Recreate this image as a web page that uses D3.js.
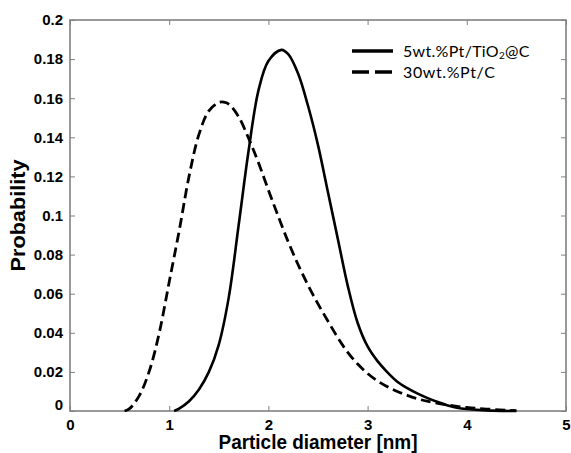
<!DOCTYPE html>
<html><head><meta charset="utf-8">
<script src="https://cdn.jsdelivr.net/npm/d3@7"></script>
<style>body{margin:0;background:#fff}</style>
</head><body>
<script>
// Data
const solidX = [1.05,1.1,1.2,1.3,1.4,1.5,1.6,1.7,1.8,1.9,2.0,2.13,2.2,2.3,2.4,2.5,2.6,2.7,2.8,2.9,3.0,3.1,3.2,3.3,3.4,3.5,3.6,3.7,3.8,3.9,4.0,4.2,4.5];
const solidY = [0,0.0012,0.005,0.011,0.020,0.034,0.058,0.095,0.133,0.164,0.179,0.1847,0.1825,0.1725,0.156,0.136,0.112,0.088,0.064,0.045,0.033,0.0255,0.0198,0.015,0.0117,0.009,0.0067,0.0047,0.003,0.0017,0.001,0.0003,0];
const dashX = [0.55,0.6,0.7,0.8,0.9,1.0,1.1,1.2,1.3,1.4,1.5,1.55,1.6,1.7,1.8,1.9,2.0,2.1,2.2,2.3,2.4,2.5,2.6,2.7,2.8,2.9,3.0,3.1,3.2,3.3,3.4,3.5,3.6,3.8,4.0,4.2,4.5];
const dashY = [0,0.0012,0.008,0.0205,0.040,0.066,0.092,0.120,0.1415,0.1535,0.1578,0.158,0.157,0.1505,0.1395,0.127,0.113,0.0995,0.0865,0.0748,0.0643,0.0548,0.046,0.0375,0.030,0.024,0.0192,0.0154,0.0124,0.010,0.008,0.0063,0.005,0.0031,0.0018,0.001,0.0002];
const xTicks = [0,1,2,3,4,5];
const yTicks = [0,0.02,0.04,0.06,0.08,0.1,0.12,0.14,0.16,0.18,0.2];
const yTickLabels = ["0","0.02","0.04","0.06","0.08","0.1","0.12","0.14","0.16","0.18","0.2"];
const seriesNames = ["5wt.%Pt/TiO","30wt.%Pt/C"];

const W = 571, H = 453;
const m = {l:70, r:5, t:20, b:42};
const svg = d3.select("body").append("svg").attr("width",W).attr("height",H);
const x = d3.scaleLinear().domain([0,5]).range([m.l, W-m.r]);
const y = d3.scaleLinear().domain([0,0.2]).range([H-m.b, m.t]);
const axisColor = "#808080";
const tickFont = "'Liberation Sans', Arial, sans-serif";

// frame
svg.append("rect").attr("x",x(0)).attr("y",y(0.2)).attr("width",x(5)-x(0)).attr("height",y(0)-y(0.2))
  .attr("fill","none").attr("stroke",axisColor).attr("stroke-width",1.6);

// axes (ticks inward)
const xb = svg.append("g").attr("transform",`translate(0,${y(0)})`)
  .call(d3.axisBottom(x).tickValues(xTicks).tickSizeInner(-5).tickSizeOuter(0).tickPadding(8).tickFormat(d3.format("d")));
const xt = svg.append("g").attr("transform",`translate(0,${y(0.2)})`)
  .call(d3.axisTop(x).tickValues(xTicks).tickSizeInner(-5).tickSizeOuter(0).tickFormat(""));
const yl = svg.append("g").attr("transform",`translate(${x(0)},0)`)
  .call(d3.axisLeft(y).tickValues(yTicks).tickSizeInner(-5).tickSizeOuter(0).tickPadding(7).tickFormat((d,i)=>yTickLabels[i]));
const yr = svg.append("g").attr("transform",`translate(${x(5)},0)`)
  .call(d3.axisRight(y).tickValues(yTicks).tickSizeInner(-5).tickSizeOuter(0).tickFormat(""));
[xb,xt,yl,yr].forEach(g=>{
  g.select(".domain").remove();
  g.selectAll(".tick line").attr("stroke",axisColor).attr("stroke-width",1);
  g.selectAll(".tick text").attr("font-family",tickFont).attr("font-weight","bold").attr("font-size",15).attr("fill","#000");
});
yl.selectAll(".tick text").filter(d=>d===0).attr("dy","-0.1em");

// curves
const line = d3.line().x(d=>x(d[0])).y(d=>y(d[1])).curve(d3.curveCatmullRom.alpha(0.5));
svg.append("path").datum(solidX.map((v,i)=>[v,solidY[i]]))
  .attr("d",line).attr("fill","none").attr("stroke","#000").attr("stroke-width",2.6);
svg.append("path").datum(dashX.map((v,i)=>[v,dashY[i]]))
  .attr("d",line).attr("fill","none").attr("stroke","#000").attr("stroke-width",2.8).attr("stroke-dasharray","10,5");

// axis titles
svg.append("text").attr("x",(x(0)+x(5))/2).attr("y",449).attr("text-anchor","middle")
  .attr("font-family",tickFont).attr("font-weight","bold").attr("font-size",20)
  .attr("textLength",199).attr("lengthAdjust","spacingAndGlyphs").text("Particle diameter [nm]");
svg.append("text").attr("transform",`translate(25,${(y(0)+y(0.2))/2}) rotate(-90)`).attr("text-anchor","middle")
  .attr("font-family",tickFont).attr("font-weight","bold").attr("font-size",20)
  .attr("textLength",112).attr("lengthAdjust","spacingAndGlyphs").text("Probability");

// legend
const lf = "Lato, 'Open Sans', sans-serif";
const lg = svg.append("g");
lg.append("line").attr("x1",352).attr("x2",393).attr("y1",51).attr("y2",51).attr("stroke","#000").attr("stroke-width",3.5);
lg.append("line").attr("x1",352).attr("x2",393).attr("y1",72).attr("y2",72).attr("stroke","#000").attr("stroke-width",3.5).attr("stroke-dasharray","17,6");
const t1 = lg.append("text").attr("x",403).attr("y",57).attr("font-family",lf).attr("font-size",16).attr("letter-spacing",0.3).attr("fill","#000");
t1.append("tspan").text(seriesNames[0]);
t1.append("tspan").attr("font-size",10).attr("dy",2).text("2");
t1.append("tspan").attr("dy",-2).text("@C");
lg.append("text").attr("x",403).attr("y",78).attr("font-family",lf).attr("font-size",16).attr("letter-spacing",0.6).attr("fill","#000").text(seriesNames[1]);
</script>
</body></html>
